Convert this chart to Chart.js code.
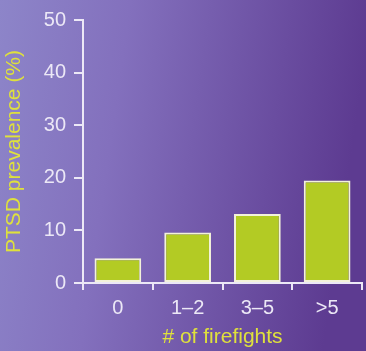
<!DOCTYPE html>
<html>
<head>
<meta charset="utf-8">
<script src="https://cdn.jsdelivr.net/npm/chart.js@4/dist/chart.umd.min.js"></script>
<style>
  html, body { margin: 0; padding: 0; background: #7a68b4; }
  #wrap { width: 366px; height: 351px; position: relative; }
</style>
</head>
<body>
<div id="wrap"><canvas id="c"></canvas></div>
<script>
// PTSD prevalence by number of firefights
const categories = ['0', '1–2', '3–5', '>5'];
const prevalence = [4.7, 9.6, 13.1, 19.5];
const yTicks = [0, 10, 20, 30, 40, 50];

const lineColor = '#ece8f6';
const labelColor = '#ece8f6';
const titleColor = '#dfe13c';
const fontFamily = '"Liberation Sans", Arial, Helvetica, sans-serif';

// purple backdrop fading from lavender on the left to deep violet on the right
const backdrop = {
  id: 'backdrop',
  beforeDraw(chart) {
    const { ctx, width, height } = chart;
    const g = ctx.createLinearGradient(0, 0, width, height * 0.15);
    g.addColorStop(0, '#8d85c9');
    g.addColorStop(0.35, '#8370bd');
    g.addColorStop(1, '#5d3b91');
    ctx.save();
    ctx.fillStyle = g;
    ctx.fillRect(0, 0, width, height);
    ctx.restore();
  }
};

new Chart(document.getElementById('c'), {
  type: 'bar',
  data: {
    labels: categories,
    datasets: [{
      data: prevalence,
      backgroundColor: '#b3cb24',
      borderColor: '#f3f2da',
      borderWidth: 2,
      borderSkipped: false,
      barPercentage: 0.67,
      categoryPercentage: 1
    }]
  },
  options: {
    responsive: true,
    maintainAspectRatio: false,
    animation: false,
    events: [],
    layout: { padding: { top: 17, right: 4, left: 0, bottom: 0 } },
    plugins: { legend: { display: false }, tooltip: { enabled: false } },
    scales: {
      x: {
        offset: true,
        grid: { display: true, offset: true, drawOnChartArea: false, tickLength: 7, color: lineColor, lineWidth: 2 },
        border: { display: true, color: lineColor, width: 2 },
        ticks: { color: labelColor, font: { family: fontFamily, size: 20 }, padding: 6 },
        title: { display: true, text: '# of firefights', color: titleColor, font: { family: fontFamily, size: 21 }, padding: { top: 0, bottom: 1 } },
        afterFit(scale) { scale.height = 68; }
      },
      y: {
        min: 0,
        max: 50,
        afterBuildTicks(scale) { scale.ticks = yTicks.map(v => ({ value: v })); },
        grid: { display: true, drawOnChartArea: false, tickLength: 9, color: lineColor, lineWidth: 2 },
        border: { display: true, color: lineColor, width: 2 },
        ticks: { color: labelColor, font: { family: fontFamily, size: 20 }, padding: 8 },
        title: { display: true, text: 'PTSD prevalence (%)', color: titleColor, font: { family: fontFamily, size: 21 }, padding: { top: 2, bottom: 0 } },
        afterFit(scale) { scale.width = 83; }
      }
    }
  },
  plugins: [backdrop]
});
</script>
</body>
</html>
